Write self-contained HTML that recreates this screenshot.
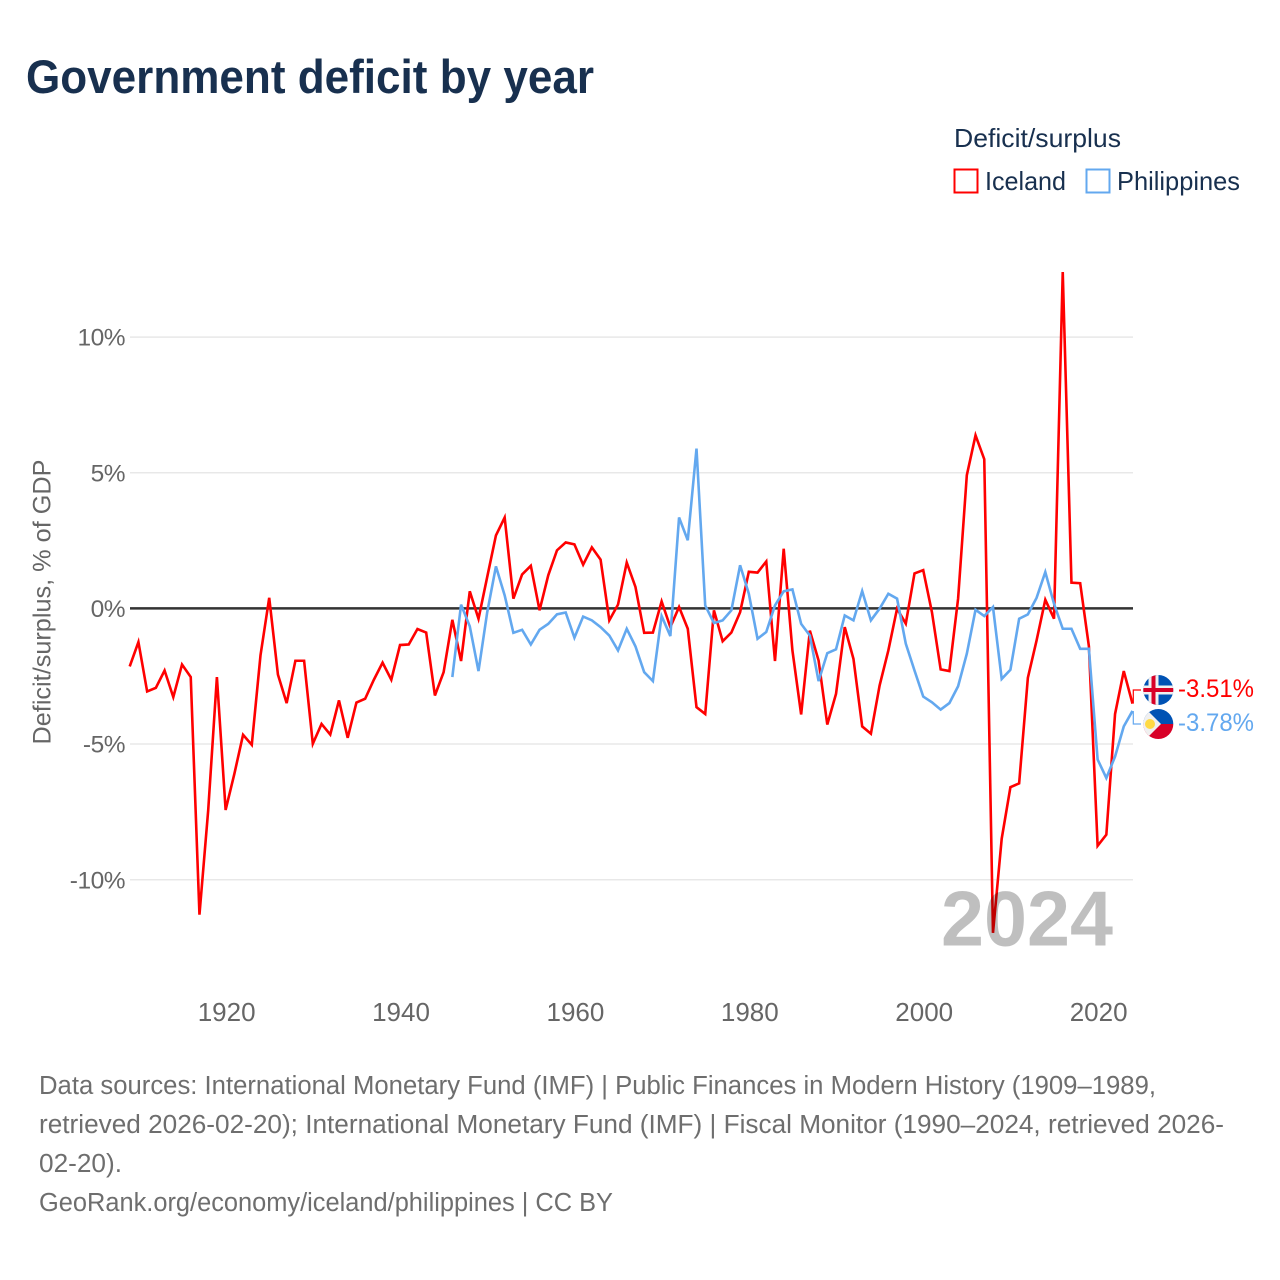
<!DOCTYPE html>
<html lang="en">
<head>
<meta charset="utf-8">
<title>Government deficit by year</title>
<style>
html,body{margin:0;padding:0;background:#fff;}
svg{display:block;font-family:"Liberation Sans",sans-serif;}
</style>
</head>
<body>
<svg id="chart" xmlns="http://www.w3.org/2000/svg" width="1280" height="1280" viewBox="0 0 1280 1280">
  <rect x="0" y="0" width="1280" height="1280" fill="#ffffff"/>
  <text x="26" y="93" font-size="47" font-weight="700" fill="#18304f" textLength="568" lengthAdjust="spacingAndGlyphs">Government deficit by year</text>

  <g>
    <text x="954" y="147" font-size="26" fill="#18304f" textLength="167" lengthAdjust="spacingAndGlyphs">Deficit/surplus</text>
    <g>
      <rect x="954.5" y="169.5" width="23" height="23" fill="none" stroke="#ff0000" stroke-width="2"/>
      <text x="985" y="190" font-size="26" fill="#18304f" textLength="81" lengthAdjust="spacingAndGlyphs">Iceland</text>
    </g>
    <g>
      <rect x="1086.5" y="169.5" width="23" height="23" fill="none" stroke="#63a8ef" stroke-width="2"/>
      <text x="1117" y="190" font-size="26" fill="#18304f" textLength="123" lengthAdjust="spacingAndGlyphs">Philippines</text>
    </g>
  </g>

  <text transform="translate(50.5,602) rotate(-90)" text-anchor="middle" font-size="25" fill="#666666" textLength="285" lengthAdjust="spacingAndGlyphs">Deficit/surplus, % of GDP</text>

  <g id="grid"></g>
  <g id="yticks"></g>
  <g id="xticks"></g>

  <g id="series"></g>

  <text x="941" y="945.5" font-size="78" font-weight="700" fill="#000000" fill-opacity="0.25" textLength="172" lengthAdjust="spacingAndGlyphs">2024</text>

  <g id="endlabels"></g>

  <defs>
    <clipPath id="clip-is"><circle cx="1158.3" cy="690" r="15"/></clipPath>
    <clipPath id="clip-ph"><circle cx="1158.3" cy="724" r="15"/></clipPath>
  </defs>
  <g clip-path="url(#clip-is)">
    <rect x="1143" y="675" width="31" height="30" fill="#0052b4"/>
    <rect x="1148.5" y="675" width="10" height="30" fill="#f0f0f0"/>
    <rect x="1143" y="685.5" width="31" height="9" fill="#f0f0f0"/>
    <rect x="1151.5" y="675" width="4" height="30" fill="#d80027"/>
    <rect x="1143" y="688" width="31" height="4" fill="#d80027"/>
  </g>
  <g clip-path="url(#clip-ph)">
    <rect x="1143" y="709" width="31" height="15" fill="#0052b4"/>
    <rect x="1143" y="724" width="31" height="15" fill="#d80027"/>
    <polygon points="1143,706 1161,724 1143,742" fill="#f0f0f0"/>
    <circle cx="1150" cy="724" r="5" fill="#ffda44"/>
  </g>

  <g font-size="25.5" fill="#6e6e6e">
    <text x="39" y="1094" textLength="1117" lengthAdjust="spacingAndGlyphs">Data sources: International Monetary Fund (IMF) | Public Finances in Modern History (1909–1989,</text>
    <text x="39" y="1133" textLength="1185" lengthAdjust="spacingAndGlyphs">retrieved 2026-02-20); International Monetary Fund (IMF) | Fiscal Monitor (1990–2024, retrieved 2026-</text>
    <text x="39" y="1172" textLength="83" lengthAdjust="spacingAndGlyphs">02-20).</text>
    <text x="39" y="1211" textLength="574" lengthAdjust="spacingAndGlyphs">GeoRank.org/economy/iceland/philippines | CC BY</text>
  </g>
</svg>

<script>
const icelandStartYear = 1909;
const icelandValues = [
  -2.14,-1.24,-3.06,-2.93,-2.29,-3.27,-2.07,-2.53,-11.29,-7.45,-2.53,-7.43,-6.1,-4.66,-5.03,-1.73,0.39,-2.44,-3.49,-1.93,
  -1.93,-4.99,-4.26,-4.65,-3.39,-4.77,-3.47,-3.33,-2.63,-2.0,-2.63,-1.35,-1.33,-0.76,-0.89,-3.21,-2.35,-0.42,-1.94,0.63,
  -0.38,1.16,2.69,3.35,0.36,1.25,1.57,-0.07,1.22,2.14,2.43,2.36,1.61,2.25,1.8,-0.44,0.14,1.69,0.79,-0.9,
  -0.89,0.26,-0.69,0.05,-0.75,-3.64,-3.89,-0.07,-1.21,-0.89,-0.14,1.35,1.32,1.73,-1.94,2.2,-1.55,-3.91,-0.82,-1.92,
  -4.28,-3.15,-0.69,-1.86,-4.35,-4.62,-2.84,-1.55,-0.01,-0.56,1.29,1.41,-0.14,-2.25,-2.31,0.36,4.91,6.38,5.5,-11.96,
  -8.49,-6.59,-6.45,-2.56,-1.18,0.32,-0.38,12.4,0.95,0.93,-1.4,-8.75,-8.34,-3.89,-2.31,-3.51
];
const philippinesStartYear = 1946;
const philippinesValues = [
  -2.53,0.14,-0.66,-2.31,-0.14,1.55,0.48,-0.9,-0.79,-1.33,-0.79,-0.57,-0.22,-0.15,-1.08,-0.3,-0.44,-0.69,-1.0,-1.55,
  -0.75,-1.4,-2.35,-2.68,-0.28,-1.02,3.35,2.51,5.89,0.11,-0.54,-0.44,-0.07,1.59,0.54,-1.12,-0.87,0.11,0.63,0.7,
  -0.57,-1.0,-2.68,-1.65,-1.51,-0.26,-0.44,0.64,-0.44,-0.01,0.54,0.36,-1.3,-2.29,-3.25,-3.46,-3.73,-3.49,-2.87,-1.67,
  -0.05,-0.28,0.05,-2.6,-2.26,-0.38,-0.22,0.39,1.34,0.17,-0.75,-0.75,-1.49,-1.49,-5.57,-6.25,-5.46,-4.35,-3.78
];
const yTickValues = [10, 5, -5, -10];
const yTickLabels = ["10%", "5%", "-5%", "-10%"];
const zeroValue = 0;
const zeroLabel = "0%";
const xTickYears = [1920, 1940, 1960, 1980, 2000, 2020];
const xTickLabels = ["1920", "1940", "1960", "1980", "2000", "2020"];
const endLabels = ["-3.51%", "-3.78%"];

const SVG_NS = "http://www.w3.org/2000/svg";
const plotLeft = 130;
const plotRight = 1133;
function xScale(year) { return 129.7 + (year - 1909) * 8.72; }
function yScale(value) { return 608.4 - value * 27.13; }

function make(tag, attrs, parent) {
  const el = document.createElementNS(SVG_NS, tag);
  for (const k in attrs) el.setAttribute(k, attrs[k]);
  parent.appendChild(el);
  return el;
}

const grid = document.getElementById("grid");
const yticks = document.getElementById("yticks");
const xticks = document.getElementById("xticks");
const series = document.getElementById("series");
const endGroup = document.getElementById("endlabels");

yTickValues.forEach(function (v, i) {
  const line = make("line", {x1: plotLeft, x2: plotRight, y1: yScale(v), y2: yScale(v), stroke: "#e8e8e8", "stroke-width": 1.5}, grid);
  
  
  const label = make("text", {x: 125, y: yScale(v) + 8.6, "text-anchor": "end", "font-size": 24.5, "letter-spacing": "-0.5", fill: "#666666"}, yticks);
  
  
  label.textContent = yTickLabels[i];
});

const zeroTick = make("text", {x: 125, y: yScale(zeroValue) + 8.6, "text-anchor": "end", "font-size": 24.5, "letter-spacing": "-0.5", fill: "#666666"}, yticks);


zeroTick.textContent = zeroLabel;

xTickYears.forEach(function (yr, i) {
  const label = make("text", {x: xScale(yr) + 1, y: 1021, "text-anchor": "middle", "font-size": 26, fill: "#666666"}, xticks);
  
  
  label.textContent = xTickLabels[i];
});

function linePoints(startYear, values) {
  return values.map(function (v, i) {
    return xScale(startYear + i).toFixed(2) + "," + yScale(v).toFixed(2);
  }).join(" ");
}

const zeroLine = make("line", {x1: plotLeft, x2: plotRight, y1: yScale(zeroValue), y2: yScale(zeroValue), stroke: "#333333", "stroke-width": 2.5}, series);



const redLine = make("polyline", {points: linePoints(icelandStartYear, icelandValues), fill: "none", stroke: "#ff0000", "stroke-width": 2.6, "stroke-linejoin": "miter", "stroke-miterlimit": 4}, series);



const blueLine = make("polyline", {points: linePoints(philippinesStartYear, philippinesValues), fill: "none", stroke: "#63a8ef", "stroke-width": 2.6, "stroke-linejoin": "miter", "stroke-miterlimit": 4}, series);



const lastRed = icelandValues[icelandValues.length - 1];
const lastBlue = philippinesValues[philippinesValues.length - 1];
const lastX = xScale(2024) + 0.8;

const redConn = make("polyline", {points: lastX + "," + yScale(lastRed) + " " + lastX + ",690 1141,690", fill: "none", stroke: "#ff0000", "stroke-width": 1.2}, endGroup);



const blueConn = make("polyline", {points: lastX + "," + yScale(lastBlue) + " " + lastX + ",724 1141,724", fill: "none", stroke: "#63a8ef", "stroke-width": 1.2}, endGroup);



const redLabel = make("text", {x: 1178, y: 697, "font-size": 25, fill: "#ff0000", textLength: 76, lengthAdjust: "spacingAndGlyphs"}, endGroup);


redLabel.textContent = endLabels[0];

const blueLabel = make("text", {x: 1178, y: 731, "font-size": 25, fill: "#63a8ef", textLength: 76, lengthAdjust: "spacingAndGlyphs"}, endGroup);


blueLabel.textContent = endLabels[1];
</script>
</body>
</html>
